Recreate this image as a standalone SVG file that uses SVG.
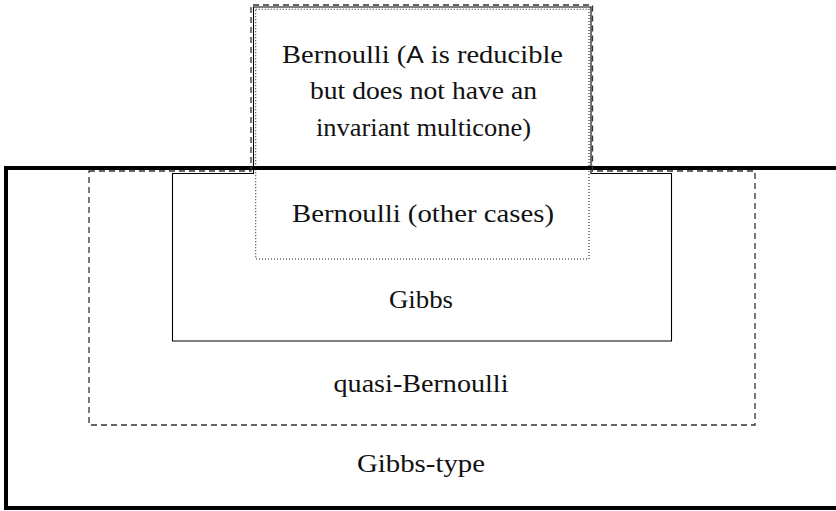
<svg xmlns="http://www.w3.org/2000/svg" width="836" height="511" viewBox="0 0 836 511">
<style>
text{font-family:"Liberation Serif","Times New Roman",serif;font-size:25px;fill:#111;text-anchor:middle}
.sans{font-family:"Liberation Sans",Arial,sans-serif;font-size:23px}
.thick{fill:none;stroke:#000;stroke-width:4}
.dashed{fill:none;stroke:#333;stroke-width:1.3;stroke-dasharray:6 4}
.solid{fill:none;stroke:#000;stroke-width:1.1}
.dotted{fill:none;stroke:#222;stroke-width:1.1;stroke-dasharray:1 2}
</style>
<rect width="836" height="511" fill="#fff"/>
<g id="gibbs-type">
<rect class="thick" x="6" y="168" width="840" height="340"/>
<text x="421" y="472" textLength="128" lengthAdjust="spacingAndGlyphs">Gibbs-type</text>
</g>
<g id="quasi-bernoulli">
<path class="dashed" d="M89,171 H251 V5 H592.5 V171 H755 V425 H89 Z"/>
<text x="421" y="392" textLength="175" lengthAdjust="spacingAndGlyphs">quasi-Bernoulli</text>
</g>
<g id="gibbs">
<path class="solid" d="M172.5,173.5 H253.5 V7 H591 V173.5 H671.5 V341 H172.5 Z"/>
<text x="421" y="308" textLength="64" lengthAdjust="spacingAndGlyphs">Gibbs</text>
</g>
<g id="bernoulli">
<rect class="dotted" x="255.7" y="9.3" width="333.3" height="249.7"/>
<text x="422.5" y="62.5" textLength="281" lengthAdjust="spacingAndGlyphs">Bernoulli (<tspan class="sans">A</tspan> is reducible</text>
<text x="423.5" y="99.3" textLength="227" lengthAdjust="spacingAndGlyphs">but does not have an</text>
<text x="423.5" y="136" textLength="215" lengthAdjust="spacingAndGlyphs">invariant multicone)</text>
<text x="423" y="222" textLength="262" lengthAdjust="spacingAndGlyphs">Bernoulli (other cases)</text>
</g>
<g id="connectors"></g>
</svg>
